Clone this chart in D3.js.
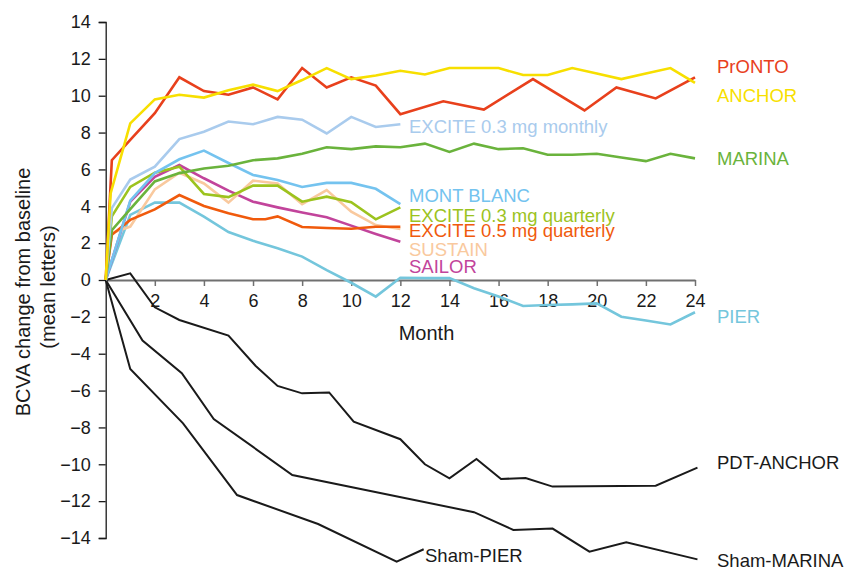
<!DOCTYPE html>
<html>
<head>
<meta charset="utf-8">
<script src="https://cdn.jsdelivr.net/npm/d3@7"></script>
<style>
  body { margin: 0; background: #fff; }
  svg text { font-family: "Liberation Sans", Arial, Helvetica, sans-serif; }
</style>
</head>
<body>
<div id="chart"></div>
<script>
// [month, mean BCVA change in letters]
var pronto = [[0,0],[0.25,6.5],[1,7.6],[2,9.05],[3,11.0],[4,10.25],[5,10.05],[6,10.45],[7,9.8],[8,11.5],[9,10.45],[10,11.0],[11,10.55],[12,9.0],[13.75,9.7],[15.4,9.25],[17.4,10.9],[19.5,9.2],[20.8,10.45],[22.4,9.85],[24,11.0]];
var anchor = [[0,0],[0.2,4.7],[1,8.5],[2,9.8],[3,10.05],[4,9.9],[5,10.3],[6,10.6],[7,10.25],[8,10.85],[9,11.5],[10,10.9],[11,11.1],[12,11.35],[13,11.15],[14,11.5],[15,11.5],[16,11.5],[17,11.12],[18,11.12],[19,11.5],[20,11.2],[21,10.9],[22,11.2],[23,11.5],[24,10.7]];
var exciteMonthly = [[0,0],[0.25,3.9],[1,5.45],[2,6.15],[3,7.65],[4,8.05],[5,8.6],[6,8.45],[7,8.85],[8,8.7],[9,7.95],[10,8.85],[11,8.3],[12,8.45]];
var marina = [[0,0],[0.25,2.7],[1,3.85],[2,5.35],[3,5.8],[4,6.05],[5,6.2],[6,6.5],[7,6.6],[8,6.85],[9,7.2],[10,7.1],[11,7.25],[12,7.2],[13,7.4],[14,6.95],[15,7.4],[16,7.1],[17,7.15],[18,6.8],[19,6.8],[20,6.85],[21,6.65],[22,6.45],[23,6.85],[24,6.6]];
var montBlanc = [[0,0],[1,4.3],[2,5.8],[3,6.55],[4,7.02],[5,6.35],[6,5.7],[7,5.43],[8,5.05],[9,5.27],[10,5.27],[11,4.95],[12,4.12]];
var exciteQ03 = [[0,0],[0.25,3.45],[1,5.05],[2,5.82],[3,6.15],[4,4.67],[5,4.5],[6,5.12],[7,5.12],[8,4.25],[9,4.52],[10,4.22],[11,3.29],[12,3.94]];
var exciteQ05 = [[0,0],[0.25,2.45],[1,3.26],[2,3.83],[3,4.61],[4,4.02],[5,3.62],[6,3.3],[6.5,3.3],[7,3.45],[8,2.88],[9,2.82],[10,2.78],[11,2.89],[12,2.89]];
var sustain = [[0,0],[0.25,2.55],[1,2.9],[2,4.92],[3,5.82],[4,5.24],[5,4.2],[6,5.39],[7,5.24],[8,4.12],[9,4.88],[10,3.71],[11,2.98],[12,2.77]];
var sailor = [[0,0],[1,4.25],[2,5.6],[3,6.24],[4,5.52],[5,4.85],[6,4.25],[7,3.94],[8,3.66],[9,3.4],[10,2.95],[11,2.5],[12,2.08]];
var pier = [[0,0],[1,3.53],[2,4.2],[3,4.2],[4,3.44],[5,2.6],[6,2.13],[7,1.72],[8,1.27],[9,0.54],[10,-0.15],[11,-0.9],[12,0.12],[13,0.1],[14,0.1],[15,-0.45],[16,-0.9],[17,-1.41],[18,-1.36],[19,-1.32],[20,-1.27],[21,-1.99],[22,-2.2],[23,-2.41],[24,-1.75]];
var pdtAnchor = [[0,0],[1,0.36],[2,-1.48],[3,-2.17],[5,-3.02],[6.1,-4.65],[7,-5.75],[8,-6.15],[9.1,-6.1],[10.1,-7.69],[12,-8.64],[13,-10.0],[14,-10.76],[15.1,-9.71],[16.1,-10.8],[17.1,-10.74],[18.2,-11.21],[22.4,-11.16],[24.1,-10.18]];
var shamMarina = [[0,0],[1.5,-3.29],[3.1,-5.06],[4.4,-7.54],[7.6,-10.58],[15,-12.6],[16.6,-13.56],[18.2,-13.49],[19.7,-14.74],[21.2,-14.23],[24.1,-15.16]];
var shamPier = [[0,0],[1,-4.83],[3.15,-7.78],[5.35,-11.67],[8.65,-13.24],[11.85,-15.28],[12.95,-14.61]];

var xTicks = [2,4,6,8,10,12,14,16,18,20,22,24];
var yTicks = [-14,-12,-10,-8,-6,-4,-2,0,2,4,6,8,10,12,14];

// series, colour, label, label position [x, baseline y]
var series = [
  {data: shamPier,   color: "#1a1a1a", label: "Sham-PIER",   lx: 425, ly: 562},
  {data: shamMarina, color: "#1a1a1a", label: "Sham-MARINA", lx: 717, ly: 567},
  {data: pdtAnchor,  color: "#1a1a1a", label: "PDT-ANCHOR",  lx: 717, ly: 469},
  {data: pier,       color: "#74c6dc", label: "PIER",        lx: 717, ly: 323},
  {data: sailor,     color: "#c2449b", label: "SAILOR",      lx: 409, ly: 273},
  {data: sustain,    color: "#f9c99e", label: "SUSTAIN",     lx: 409, ly: 256},
  {data: exciteQ05,  color: "#f05a0c", label: "EXCITE 0.5 mg quarterly", lx: 409, ly: 237},
  {data: exciteQ03,  color: "#9cc31e", label: "EXCITE 0.3 mg quarterly", lx: 409, ly: 221.5},
  {data: montBlanc,  color: "#74c3ef", label: "MONT BLANC",  lx: 409, ly: 202},
  {data: marina,     color: "#6ab33c", label: "MARINA",      lx: 717, ly: 165},
  {data: exciteMonthly, color: "#a9cbed", label: "EXCITE 0.3 mg monthly", lx: 409, ly: 133},
  {data: pronto,     color: "#e8401c", label: "PrONTO",      lx: 717, ly: 73},
  {data: anchor,     color: "#f7df00", label: "ANCHOR",      lx: 717, ly: 102}
];

var width = 854, height = 573;
var svg = d3.select("#chart").append("svg")
    .attr("width", width)
    .attr("height", height);

var x = d3.scaleLinear().domain([0, 24]).range([105.7, 695]);
var y = d3.scaleLinear().domain([-14, 14]).range([538, 22]);

// y axis
var yAxis = svg.append("g")
    .attr("transform", "translate(" + x(0) + ",0)")
    .call(d3.axisLeft(y).tickValues(yTicks).tickSize(7).tickPadding(8));
yAxis.select(".domain").attr("stroke", "#1a1a1a").attr("stroke-width", 1.3);
yAxis.selectAll(".tick line").attr("stroke", "#1a1a1a").attr("stroke-width", 1.3);
yAxis.selectAll(".tick text").style("font-size", "18px").attr("fill", "#1a1a1a");

// x axis sits on zero
var xAxis = svg.append("g")
    .attr("transform", "translate(0," + y(0) + ")")
    .call(d3.axisBottom(x).tickValues(xTicks).tickSize(6).tickSizeOuter(0).tickPadding(8));
xAxis.select(".domain").attr("stroke", "#707070").attr("stroke-width", 2);
xAxis.selectAll(".tick line").attr("stroke", "#707070").attr("stroke-width", 1.5);
xAxis.selectAll(".tick text").style("font-size", "18px").attr("fill", "#1a1a1a");

// axis titles
svg.append("text")
    .attr("transform", "translate(30,292) rotate(-90)")
    .attr("text-anchor", "middle")
    .style("font-size", "20px")
    .attr("fill", "#1a1a1a")
    .text("BCVA change from baseline");
svg.append("text")
    .attr("transform", "translate(55,287) rotate(-90)")
    .attr("text-anchor", "middle")
    .style("font-size", "20px")
    .attr("fill", "#1a1a1a")
    .text("(mean letters)");
svg.append("text")
    .attr("x", 426.5)
    .attr("y", 340)
    .attr("text-anchor", "middle")
    .style("font-size", "20px")
    .attr("fill", "#1a1a1a")
    .text("Month");

// lines
var line = d3.line()
    .x(function(d) { return x(d[0]); })
    .y(function(d) { return y(d[1]); });

svg.selectAll(".series")
    .data(series)
    .enter()
    .append("path")
    .attr("class", "series")
    .attr("d", function(d) { return line(d.data); })
    .attr("fill", "none")
    .attr("stroke", function(d) { return d.color; })
    .attr("stroke-width", function(d) { return d.color == "#1a1a1a" ? 2 : 2.6; });

// line labels
svg.selectAll(".lbl")
    .data(series)
    .enter()
    .append("text")
    .attr("class", "lbl")
    .attr("x", function(d) { return d.lx; })
    .attr("y", function(d) { return d.ly; })
    .style("font-size", "18.5px")
    .attr("fill", function(d) { return d.color; })
    .text(function(d) { return d.label; });
</script>
</body>
</html>
